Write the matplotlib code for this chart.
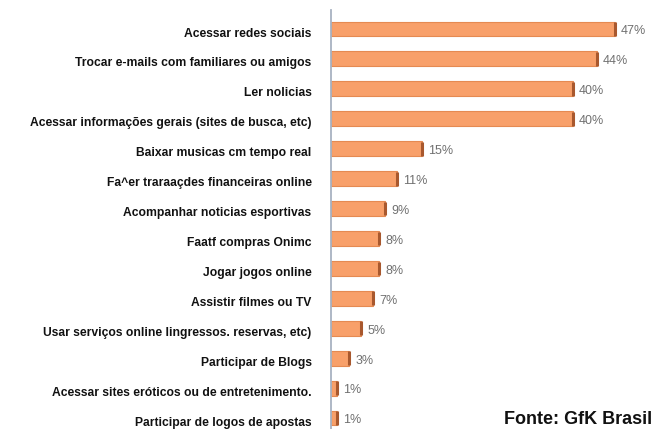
import matplotlib
matplotlib.use("Agg")
import matplotlib.pyplot as plt
from matplotlib.transforms import ScaledTranslation

categories = [
    "Acessar redes sociais",
    "Trocar e-mails com familiares ou amigos",
    "Ler nolicias",
    "Acessar informações gerais (sites de busca, etc)",
    "Baixar musicas cm tempo real",
    "Fa^er traraaçdes financeiras online",
    "Acompanhar noticias esportivas",
    "Faatf compras Onimc",
    "Jogar jogos online",
    "Assistir filmes ou TV",
    "Usar serviços online lingressos. reservas, etc)",
    "Participar de Blogs",
    "Acessar sites eróticos ou de entretenimento.",
    "Participar de logos de apostas",
]
values = [47, 44, 40, 40, 15, 11, 9, 8, 8, 7, 5, 3, 1, 1]
value_labels = ["47%", "44%", "40%", "40%", "15%", "11%", "9%", "8%", "8%", "7%", "5%", "3%", "1%", "1%"]
source = "Fonte: GfK Brasil"

plt.rcParams['font.family'] = ['Liberation Sans', 'DejaVu Sans']

W, H = 659, 429
fig = plt.figure(figsize=(W / 100, H / 100), dpi=100)
ax_left, ax_top, ax_bottom = 331, 10, 429
ax = fig.add_axes([ax_left / W, 1 - ax_bottom / H, 1 - ax_left / W, (ax_bottom - ax_top) / H])

ypos = list(range(len(categories)))
ax.barh(ypos, values, height=0.5, color="#F8A06A", edgecolor="#E58A52", linewidth=0.8, zorder=2)
for i, (y, v) in enumerate(zip(ypos, values)):
    ax.plot([v, v], [y - 0.23, y + 0.23], color="#A8582E", linewidth=2.2, solid_capstyle="butt", zorder=3)
    ax.text(v + 1.0, y + 0.08, value_labels[i], va="center", ha="left",
            fontsize=9, color="#707070", zorder=4)

ax.set_xlim(0, 54.3)
ax.set_ylim(13.367, -0.635)
ax.set_yticks(ypos)
ax.set_yticklabels(categories, fontsize=8.7, fontweight="bold", color="#111111")
ax.tick_params(axis="y", length=0, pad=14)
shift = ScaledTranslation(0, -3 / 100, fig.dpi_scale_trans)
for lbl in ax.get_yticklabels():
    lbl.set_transform(lbl.get_transform() + shift)
ax.set_xticks([])
for s in ["top", "right", "bottom"]:
    ax.spines[s].set_visible(False)
ax.spines["left"].set_color("#a8b2c2")
ax.spines["left"].set_linewidth(1.3)

fig.text(652 / W, 1 - 420 / H, source, ha="right", va="center", fontsize=13,
         fontweight="bold", color="#111111")

fig.savefig("out.png", dpi=100)
